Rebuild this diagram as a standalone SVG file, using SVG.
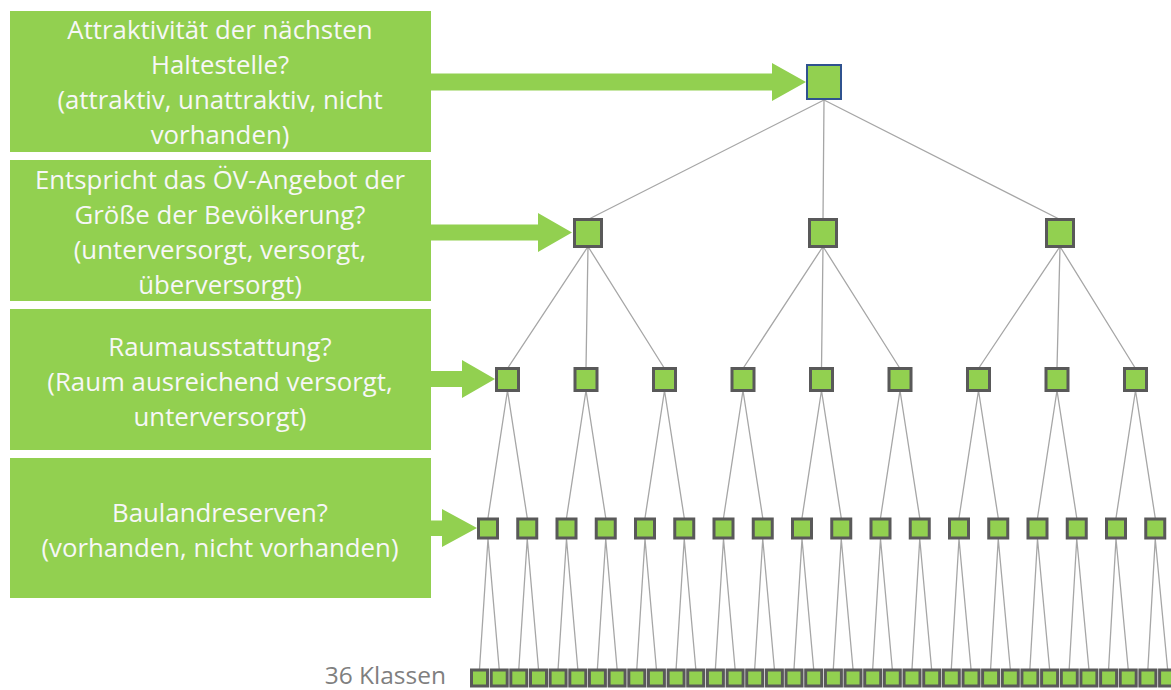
<svg xmlns="http://www.w3.org/2000/svg" width="1171" height="690" viewBox="0 0 1171 690">
<style>
.box{fill:#92d050;}
.bt{font-family:"Open Sans",Lato,sans-serif;font-size:25.8px;fill:#f7f7f7;text-anchor:middle;font-variant-ligatures:none;}
.arr{fill:#92d050;}
.ln{stroke:#a6a6a6;stroke-width:1.3;fill:none;}
.n{fill:#92d050;stroke:#595959;stroke-width:3;}
.root{fill:#92d050;stroke:#2f528f;stroke-width:2;}
.lbl{font-family:"Open Sans",Lato,sans-serif;font-size:24.5px;fill:#7f7f7f;text-anchor:end;}
</style>
<rect width="1171" height="690" fill="#ffffff"/>
<g id="q1">
<rect class="box" x="10" y="11" width="421" height="141"/>
<text class="bt" x="220" y="39">Attraktivität der nächsten</text>
<text class="bt" x="220" y="74">Haltestelle?</text>
<text class="bt" x="220" y="109">(attraktiv, unattraktiv, nicht</text>
<text class="bt" x="220" y="144">vorhanden)</text>
</g>
<g id="q2">
<rect class="box" x="10" y="160" width="421" height="141"/>
<text class="bt" x="220" y="189">Entspricht das ÖV-Angebot der</text>
<text class="bt" x="220" y="224">Größe der Bevölkerung?</text>
<text class="bt" x="220" y="259">(unterversorgt, versorgt,</text>
<text class="bt" x="220" y="294">überversorgt)</text>
</g>
<g id="q3">
<rect class="box" x="10" y="309" width="421" height="141"/>
<text class="bt" x="220" y="356">Raumausstattung?</text>
<text class="bt" x="220" y="391">(Raum ausreichend versorgt,</text>
<text class="bt" x="220" y="426">unterversorgt)</text>
</g>
<g id="q4">
<rect class="box" x="10" y="458" width="421" height="140"/>
<text class="bt" x="220" y="522">Baulandreserven?</text>
<text class="bt" x="220" y="557">(vorhanden, nicht vorhanden)</text>
</g>
<g id="arrows">
<polygon class="arr" points="430,73.5 772,73.5 772,63 806,82 772,101 772,90.5 430,90.5"/>
<polygon class="arr" points="430,224.5 538,224.5 538,213 572,232.5 538,252 538,240.5 430,240.5"/>
<polygon class="arr" points="430,371 462,371 462,360 495,379 462,398 462,387 430,387"/>
<polygon class="arr" points="430,520.5 442,520.5 442,509 477,528 442,547 442,536 430,536"/>
</g>
<g id="connectors">
<path class="ln" d="M824,100 L588,219.5 M824,100 L823,219.5 M824,100 L1060,219.5
M588,246.5 L507.5,368.5 M588,246.5 L586,368.5 M588,246.5 L664.5,368.5
M823,246.5 L743,368.5 M823,246.5 L821.5,368.5 M823,246.5 L900,368.5
M1060,246.5 L978.5,368.5 M1060,246.5 L1057,368.5 M1060,246.5 L1135.5,368.5
M507.5,390.5 L488,518 M507.5,390.5 L527.25,518
M586,390.5 L566.5,518 M586,390.5 L605.75,518
M664.5,390.5 L645,518 M664.5,390.5 L684.25,518
M743,390.5 L723.5,518 M743,390.5 L762.75,518
M821.5,390.5 L802,518 M821.5,390.5 L841.25,518
M900,390.5 L880.5,518 M900,390.5 L919.75,518
M978.5,390.5 L959,518 M978.5,390.5 L998.25,518
M1057,390.5 L1037.5,518 M1057,390.5 L1076.75,518
M1135.5,390.5 L1116,518 M1135.5,390.5 L1155.25,518
M488,539 L479.5,669 M488,539 L499.2,669
M527.25,539 L518.8,669 M527.25,539 L538.5,669
M566.5,539 L558.1,669 M566.5,539 L577.8,669
M605.75,539 L597.4,669 M605.75,539 L617.1,669
M645,539 L636.8,669 M645,539 L656.4,669
M684.25,539 L676.1,669 M684.25,539 L695.8,669
M723.5,539 L715.4,669 M723.5,539 L735.1,669
M762.75,539 L754.7,669 M762.75,539 L774.4,669
M802,539 L794,669 M802,539 L813.7,669
M841.25,539 L833.3,669 M841.25,539 L853,669
M880.5,539 L872.7,669 M880.5,539 L892.3,669
M919.75,539 L912,669 M919.75,539 L931.6,669
M959,539 L951.3,669 M959,539 L971,669
M998.25,539 L990.6,669 M998.25,539 L1010.3,669
M1037.5,539 L1029.9,669 M1037.5,539 L1049.6,669
M1076.75,539 L1069.2,669 M1076.75,539 L1088.9,669
M1116,539 L1108.6,669 M1116,539 L1128.2,669
M1155.25,539 L1147.9,669 M1155.25,539 L1167.6,669"/>
</g>
<g id="root"><rect class="root" x="807" y="65" width="34" height="34"/></g>
<g id="level2">
<rect class="n" x="574.5" y="219.5" width="27" height="27"/>
<rect class="n" x="809.5" y="219.5" width="27" height="27"/>
<rect class="n" x="1046.5" y="219.5" width="27" height="27"/>
</g>
<g id="level3">
<rect class="n" x="496.5" y="368.5" width="22" height="22"/>
<rect class="n" x="575" y="368.5" width="22" height="22"/>
<rect class="n" x="653.5" y="368.5" width="22" height="22"/>
<rect class="n" x="732" y="368.5" width="22" height="22"/>
<rect class="n" x="810.5" y="368.5" width="22" height="22"/>
<rect class="n" x="889" y="368.5" width="22" height="22"/>
<rect class="n" x="967.5" y="368.5" width="22" height="22"/>
<rect class="n" x="1046" y="368.5" width="22" height="22"/>
<rect class="n" x="1124.5" y="368.5" width="22" height="22"/>
</g>
<g id="level4">
<rect class="n" x="478.5" y="519" width="19" height="19"/>
<rect class="n" x="517.75" y="519" width="19" height="19"/>
<rect class="n" x="557" y="519" width="19" height="19"/>
<rect class="n" x="596.25" y="519" width="19" height="19"/>
<rect class="n" x="635.5" y="519" width="19" height="19"/>
<rect class="n" x="674.75" y="519" width="19" height="19"/>
<rect class="n" x="714" y="519" width="19" height="19"/>
<rect class="n" x="753.25" y="519" width="19" height="19"/>
<rect class="n" x="792.5" y="519" width="19" height="19"/>
<rect class="n" x="831.75" y="519" width="19" height="19"/>
<rect class="n" x="871" y="519" width="19" height="19"/>
<rect class="n" x="910.25" y="519" width="19" height="19"/>
<rect class="n" x="949.5" y="519" width="19" height="19"/>
<rect class="n" x="988.75" y="519" width="19" height="19"/>
<rect class="n" x="1028" y="519" width="19" height="19"/>
<rect class="n" x="1067.25" y="519" width="19" height="19"/>
<rect class="n" x="1106.5" y="519" width="19" height="19"/>
<rect class="n" x="1145.75" y="519" width="19" height="19"/>
</g>
<g id="classes">
<rect class="n" x="471.5" y="670" width="16" height="16"/>
<rect class="n" x="491.2" y="670" width="16" height="16"/>
<rect class="n" x="510.8" y="670" width="16" height="16"/>
<rect class="n" x="530.5" y="670" width="16" height="16"/>
<rect class="n" x="550.1" y="670" width="16" height="16"/>
<rect class="n" x="569.8" y="670" width="16" height="16"/>
<rect class="n" x="589.4" y="670" width="16" height="16"/>
<rect class="n" x="609.1" y="670" width="16" height="16"/>
<rect class="n" x="628.8" y="670" width="16" height="16"/>
<rect class="n" x="648.4" y="670" width="16" height="16"/>
<rect class="n" x="668.1" y="670" width="16" height="16"/>
<rect class="n" x="687.7" y="670" width="16" height="16"/>
<rect class="n" x="707.4" y="670" width="16" height="16"/>
<rect class="n" x="727.1" y="670" width="16" height="16"/>
<rect class="n" x="746.7" y="670" width="16" height="16"/>
<rect class="n" x="766.4" y="670" width="16" height="16"/>
<rect class="n" x="786" y="670" width="16" height="16"/>
<rect class="n" x="805.7" y="670" width="16" height="16"/>
<rect class="n" x="825.4" y="670" width="16" height="16"/>
<rect class="n" x="845" y="670" width="16" height="16"/>
<rect class="n" x="864.7" y="670" width="16" height="16"/>
<rect class="n" x="884.3" y="670" width="16" height="16"/>
<rect class="n" x="904" y="670" width="16" height="16"/>
<rect class="n" x="923.7" y="670" width="16" height="16"/>
<rect class="n" x="943.3" y="670" width="16" height="16"/>
<rect class="n" x="963" y="670" width="16" height="16"/>
<rect class="n" x="982.6" y="670" width="16" height="16"/>
<rect class="n" x="1002.3" y="670" width="16" height="16"/>
<rect class="n" x="1021.9" y="670" width="16" height="16"/>
<rect class="n" x="1041.6" y="670" width="16" height="16"/>
<rect class="n" x="1061.3" y="670" width="16" height="16"/>
<rect class="n" x="1080.9" y="670" width="16" height="16"/>
<rect class="n" x="1100.6" y="670" width="16" height="16"/>
<rect class="n" x="1120.2" y="670" width="16" height="16"/>
<rect class="n" x="1139.9" y="670" width="16" height="16"/>
<rect class="n" x="1159.6" y="670" width="16" height="16"/>
</g>
<text class="lbl" x="446" y="684">36 Klassen</text>
</svg>
